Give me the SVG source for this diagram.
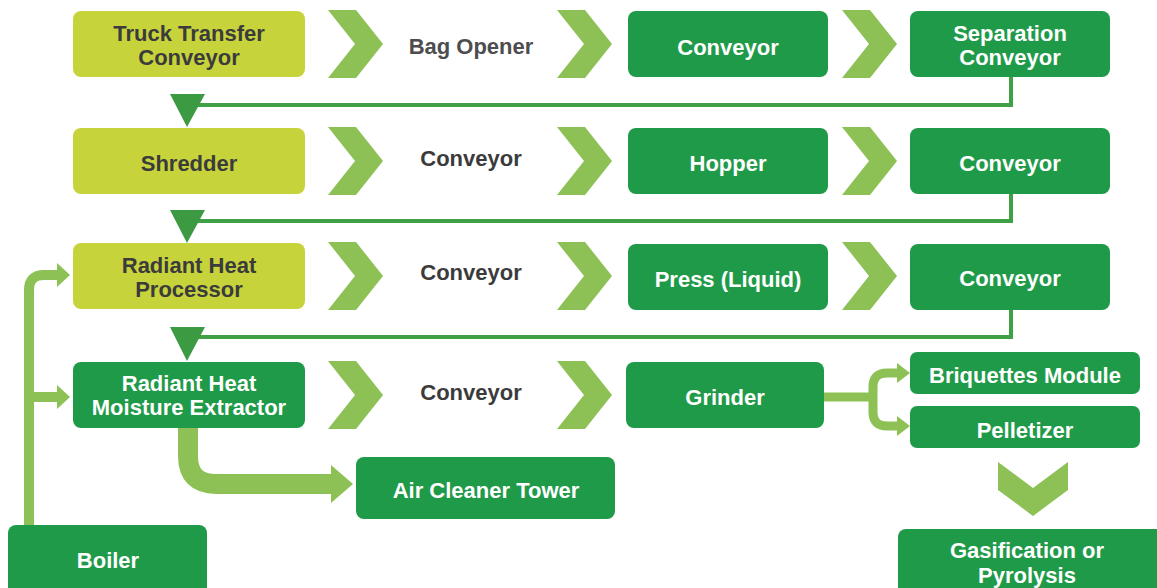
<svg xmlns="http://www.w3.org/2000/svg" width="1157" height="588" viewBox="0 0 1157 588">
<style>
.lt{fill:#c6d33b}
.dk{fill:#1f9a48}
.t{font-family:"Liberation Sans",Arial,sans-serif;font-weight:bold;font-size:22px;text-anchor:middle}
.td{fill:#3b3b3b}
.tw{fill:#ffffff}
.tg{fill:#4d4d4f}
.chev{fill:#8dc155}
.ret{fill:none;stroke:#3fa046;stroke-width:4}
.tri{fill:#3c9a42}
.lg{fill:none;stroke:#8dc155}
.ah{fill:#8dc155}
</style>
<defs>
<path id="chev" d="M0,0 H28 L55,34 L28,68 H0 L27,34 Z"/>
</defs>
<rect width="1157" height="588" fill="#ffffff"/>
<g id="connectors">
<use href="#chev" class="chev" x="328" y="10"/>
<use href="#chev" class="chev" x="557" y="10"/>
<use href="#chev" class="chev" x="842" y="10"/>
<use href="#chev" class="chev" x="328" y="127"/>
<use href="#chev" class="chev" x="557" y="127"/>
<use href="#chev" class="chev" x="842" y="127"/>
<use href="#chev" class="chev" x="328" y="242"/>
<use href="#chev" class="chev" x="557" y="242"/>
<use href="#chev" class="chev" x="842" y="242"/>
<use href="#chev" class="chev" x="328" y="361"/>
<use href="#chev" class="chev" x="557" y="361"/>
<path class="chev" d="M998,462 L1033,488 L1068,462 V490 L1033,516 L998,490 Z"/>
<path class="ret" d="M1011,77 V105 H195"/>
<polygon class="tri" points="170,94 205,94 187,127"/>
<path class="ret" d="M1011,194 V221 H195"/>
<polygon class="tri" points="170,210 205,210 187,243"/>
<path class="ret" d="M1011,310 V337 H195"/>
<polygon class="tri" points="170,327 205,327 187,361"/>
<path class="lg" stroke-width="10" d="M29,525 V290 Q29,275 44,275 H59"/>
<polygon class="ah" points="57,263 70,275 57,287"/>
<path class="lg" stroke-width="10" d="M29,397 H59"/>
<polygon class="ah" points="57,385 70,397 57,409"/>
<path class="lg" stroke-width="20" d="M188,428 V456 Q188,484 216,484 H334"/>
<polygon class="ah" points="331,465 353,484 331,503"/>
<path class="lg" stroke-width="9" d="M824,397 H873"/>
<path class="lg" stroke-width="9" d="M899,373 H887 Q873,373 873,387 V412 Q873,426 887,426 H899"/>
<polygon class="ah" points="897,363 910,373 897,383"/>
<polygon class="ah" points="897,416 910,426 897,436"/>
</g>
<g id="truck-transfer"><rect class="lt" x="73" y="11" width="232" height="66" rx="8"/><text class="t td" x="189" y="41">Truck Transfer</text><text class="t td" x="189" y="65">Conveyor</text></g>
<g id="bag-opener"><text class="t tg" x="471" y="54">Bag Opener</text></g>
<g id="conveyor-1"><rect class="dk" x="628" y="11" width="200" height="66" rx="8"/><text class="t tw" x="728" y="55">Conveyor</text></g>
<g id="separation-conveyor"><rect class="dk" x="910" y="11" width="200" height="66" rx="8"/><text class="t tw" x="1010" y="41">Separation</text><text class="t tw" x="1010" y="65">Conveyor</text></g>
<g id="shredder"><rect class="lt" x="73" y="128" width="232" height="66" rx="8"/><text class="t td" x="189" y="171">Shredder</text></g>
<g id="conveyor-2"><text class="t td" x="471" y="166">Conveyor</text></g>
<g id="hopper"><rect class="dk" x="628" y="128" width="200" height="66" rx="8"/><text class="t tw" x="728" y="171">Hopper</text></g>
<g id="conveyor-3"><rect class="dk" x="910" y="128" width="200" height="66" rx="8"/><text class="t tw" x="1010" y="171">Conveyor</text></g>
<g id="radiant-processor"><rect class="lt" x="73" y="243" width="232" height="66" rx="8"/><text class="t td" x="189" y="273">Radiant Heat</text><text class="t td" x="189" y="297">Processor</text></g>
<g id="conveyor-4"><text class="t td" x="471" y="280">Conveyor</text></g>
<g id="press"><rect class="dk" x="628" y="244" width="200" height="66" rx="8"/><text class="t tw" x="728" y="287">Press (Liquid)</text></g>
<g id="conveyor-5"><rect class="dk" x="910" y="244" width="200" height="66" rx="8"/><text class="t tw" x="1010" y="286">Conveyor</text></g>
<g id="moisture-extractor"><rect class="dk" x="73" y="362" width="232" height="66" rx="8"/><text class="t tw" x="189" y="391">Radiant Heat</text><text class="t tw" x="189" y="415">Moisture Extractor</text></g>
<g id="conveyor-6"><text class="t td" x="471" y="400">Conveyor</text></g>
<g id="grinder"><rect class="dk" x="626" y="362" width="198" height="66" rx="8"/><text class="t tw" x="725" y="405">Grinder</text></g>
<g id="briquettes"><rect class="dk" x="910" y="352" width="230" height="42" rx="7"/><text class="t tw" x="1025" y="383">Briquettes Module</text></g>
<g id="pelletizer"><rect class="dk" x="910" y="406" width="230" height="42" rx="7"/><text class="t tw" x="1025" y="438">Pelletizer</text></g>
<g id="air-cleaner"><rect class="dk" x="356" y="457" width="259" height="62" rx="8"/><text class="t tw" x="486" y="498">Air Cleaner Tower</text></g>
<g id="boiler"><rect class="dk" x="8" y="525" width="199" height="80" rx="8"/><text class="t tw" x="108" y="568">Boiler</text></g>
<g id="gasification"><rect class="dk" x="898" y="529" width="270" height="80" rx="8"/><text class="t tw" x="1027" y="558">Gasification or</text><text class="t tw" x="1027" y="583">Pyrolysis</text></g>
</svg>
